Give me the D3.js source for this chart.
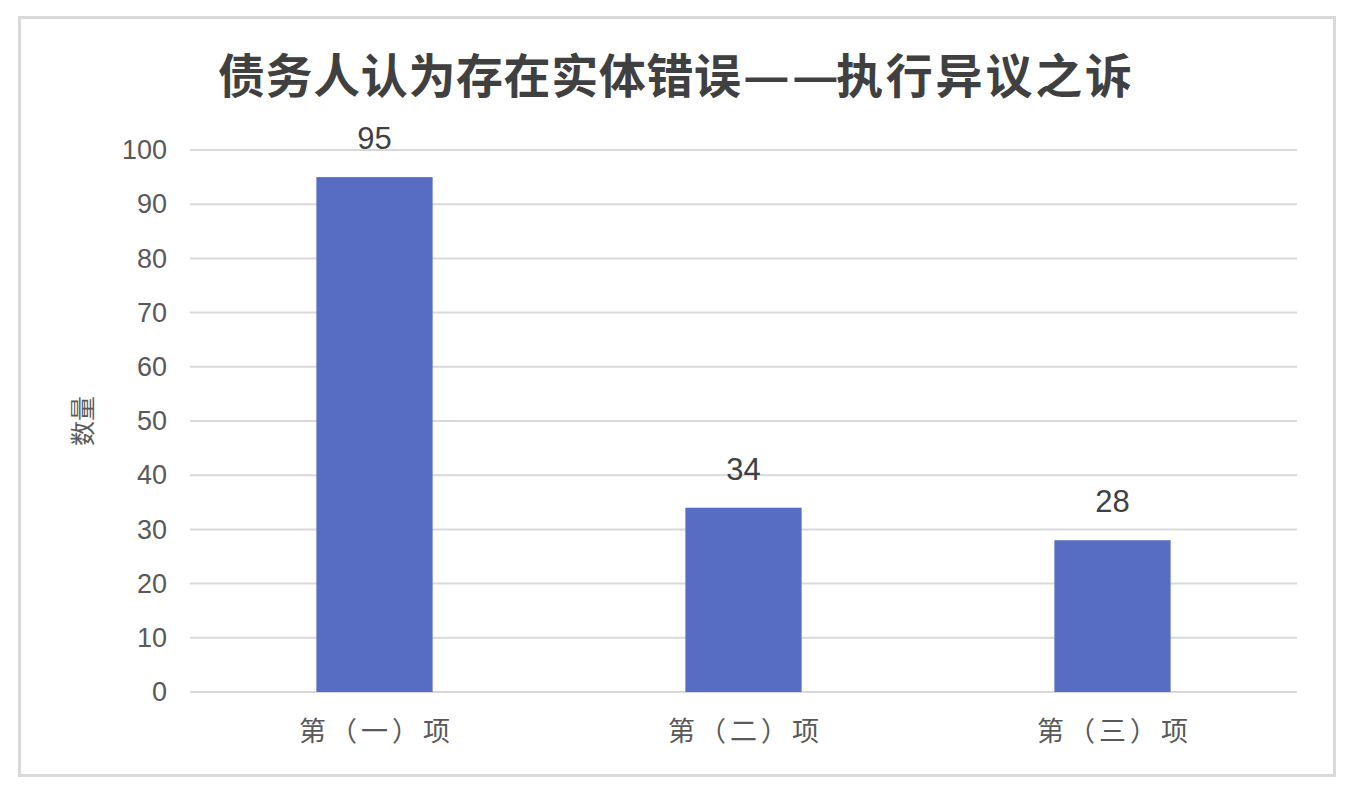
<!DOCTYPE html>
<html>
<head>
<meta charset="utf-8">
<script src="https://cdn.jsdelivr.net/npm/d3@7"></script>
<style>
	body{margin:0;background:#fff;}
	text{font-family:"Noto Sans CJK SC","Noto Sans",sans-serif;}
</style>
</head>
<body>
<svg id="chart" width="1354" height="792"></svg>
<script>
var categories = ["第（一）项","第（二）项","第（三）项"];
var counts = [95,34,28];
var yTicks = [0,10,20,30,40,50,60,70,80,90,100];
var titleParts = ["债务人认为存在实体错误","—","—","执行异议之诉"];
var yLabel = "数量";

var svg = d3.select("#chart");

// outer frame
svg.append("rect")
	.attr("x",19.5).attr("y",17.5)
	.attr("width",1315).attr("height",758)
	.attr("fill","#fff")
	.attr("stroke","#d9d9d9")
	.attr("stroke-width",3);

var plotLeft = 190, plotRight = 1297, plotTop = 150, plotBottom = 692;

var x = d3.scaleBand().domain(categories).range([plotLeft,plotRight]).padding(0);
var y = d3.scaleLinear().domain([0,100]).range([plotBottom,plotTop]);
var barW = x.bandwidth()*0.315;

// gridlines
svg.append("g")
	.selectAll("line")
	.data(yTicks)
	.enter().append("line")
	.attr("x1",plotLeft).attr("x2",plotRight)
	.attr("y1",function(d){return y(d);})
	.attr("y2",function(d){return y(d);})
	.attr("stroke","#d9d9d9")
	.attr("stroke-width",2);

// y tick labels
var yAxis = svg.append("g")
	.attr("transform","translate("+(plotLeft-23)+",0)")
	.call(d3.axisLeft(y).tickValues(yTicks).tickSize(0).tickPadding(0));
yAxis.select(".domain").remove();
yAxis.selectAll("text")
	.attr("fill","#595959")
	.style("font-family","'Liberation Sans',Arial,sans-serif")
	.style("font-size","27px");

// bars
svg.append("g")
	.selectAll("rect")
	.data(counts)
	.enter().append("rect")
	.attr("x",function(d,i){return x(categories[i])+x.bandwidth()/2-barW/2;})
	.attr("y",function(d){return y(d);})
	.attr("width",barW)
	.attr("height",function(d){return y(0)-y(d);})
	.attr("fill","#566dc3");

// data labels
svg.append("g")
	.selectAll("text")
	.data(counts)
	.enter().append("text")
	.attr("x",function(d,i){return x(categories[i])+x.bandwidth()/2;})
	.attr("y",function(d){return y(d)-28;})
	.attr("text-anchor","middle")
	.attr("fill","#404040")
	.style("font-family","'Liberation Sans',Arial,sans-serif")
	.style("font-size","31px")
	.text(function(d){return d;});

// category labels
svg.append("g")
	.selectAll("text")
	.data(categories)
	.enter().append("text")
	.attr("x",function(d){return x(d)+x.bandwidth()/2+2;})
	.attr("y",741)
	.attr("text-anchor","middle")
	.attr("fill","#595959")
	.style("font-size","27px")
	.style("letter-spacing","4px")
	.text(function(d){return d;});

// y axis title
svg.append("text")
	.attr("transform","translate(92,421) rotate(-90)")
	.attr("text-anchor","middle")
	.attr("fill","#595959")
	.style("font-size","25px")
	.text(yLabel);

// title: each part placed on its own so the two dashes stay apart,
// dashes stretched a little sideways to the length they have in the original
var titleX = [218,743,792,836];
var titleScale = [1,1.1,1.1,1];
var titleSpacing = [0.6,0,0,2.8];
svg.append("g")
	.selectAll("text")
	.data(titleParts)
	.enter().append("text")
	.attr("transform",function(d,i){return "translate("+titleX[i]+",93) scale("+titleScale[i]+",1)";})
	.attr("fill","#404040")
	.style("font-size","47px")
	.style("font-weight","600")
	.style("letter-spacing",function(d,i){return titleSpacing[i]+"px";})
	.text(function(d){return d;});
</script>
</body>
</html>
